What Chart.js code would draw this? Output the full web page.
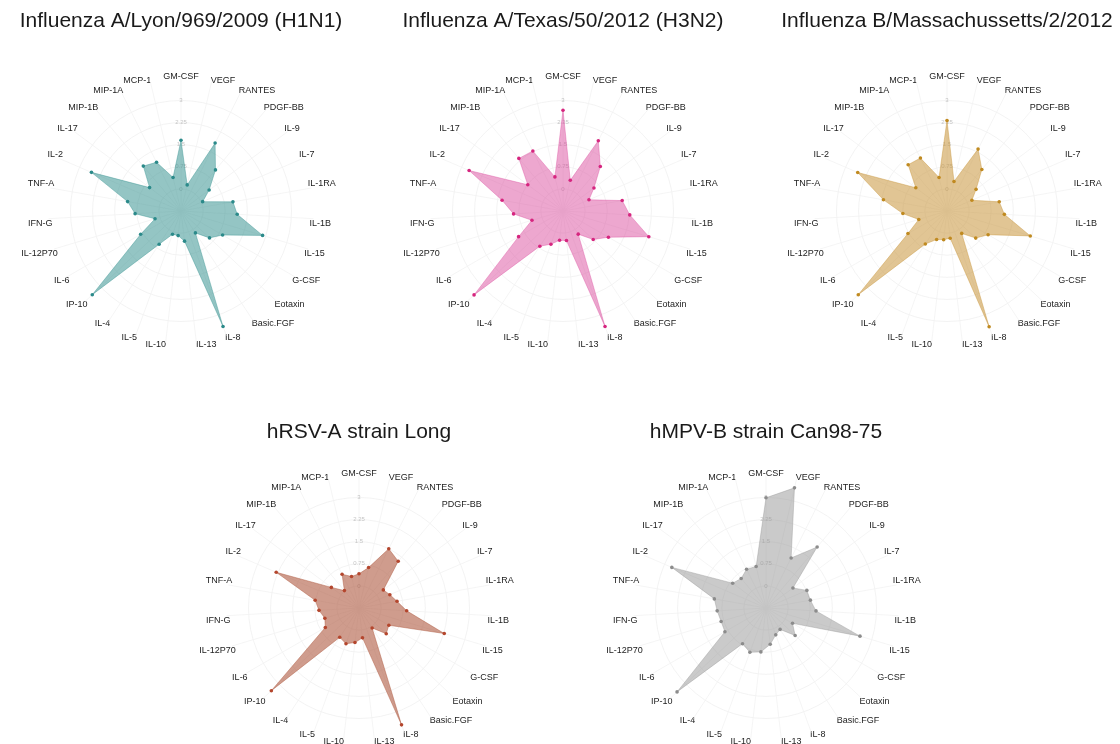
<!DOCTYPE html>
<html>
<head>
    <title>Cytokine radar</title>
    <script src="https://cdn.jsdelivr.net/npm/chart.js"></script>
    <style>
        body {
            margin: 0;
            width: 1120px;
            height: 744px;
            overflow: hidden;
            position: relative;
            background: #fff;
        }
        .radar-box {
            position: absolute;
            width: 384px;
            height: 351px;
        }
        .radar-box.low {
            height: 337px;
        }
    </style>
</head>
<body>
    <div class="radar-box" style="left:-11px; top:0px;"><canvas id="lyonChart"></canvas></div>
    <div class="radar-box" style="left:371px; top:0px;"><canvas id="texasChart"></canvas></div>
    <div class="radar-box" style="left:755px; top:0px;"><canvas id="massChart"></canvas></div>
    <div class="radar-box low" style="left:167px; top:411px;"><canvas id="rsvChart"></canvas></div>
    <div class="radar-box low" style="left:574px; top:411px;"><canvas id="mpvChart"></canvas></div>

    <script>
        // axes, clockwise from the top
        var cytokines = ['GM-CSF', 'VEGF', 'RANTES', 'PDGF-BB', 'IL-9', 'IL-7', 'IL-1RA', 'IL-1B', 'IL-15',
            'G-CSF', 'Eotaxin', 'Basic.FGF', 'IL-8', 'IL-13', 'IL-10', 'IL-5', 'IL-4', 'IP-10', 'IL-6',
            'IL-12P70', 'IFN-G', 'TNF-A', 'IL-2', 'IL-17', 'MIP-1B', 'MIP-1A', 'MCP-1'];

        var gridTicks = [0, 0.75, 1.5, 2.25, 3];

        var lyonH1N1 = [1.65, 0.16, 1.83, 1.07, 0.44, 0.05, 1.04, 1.16, 2.14, 0.88, 0.58, 0.14, 3.42, 0.28,
            0.09, 0.09, 0.60, 3.39, 0.83, 0.17, 0.81, 1.09, 2.56, 0.58, 1.24, 1.10, 0.42];
        var texasH3N2 = [2.67, 0.32, 1.92, 1.22, 0.56, 0.21, 1.29, 1.52, 2.29, 1.03, 0.66, 0.19, 3.42, 0.26,
            0.25, 0.45, 0.68, 3.40, 0.99, 0.35, 0.93, 1.35, 2.72, 0.74, 1.58, 1.53, 0.44];
        var massB = [2.32, 0.28, 1.60, 1.09, 0.48, 0.17, 1.05, 1.20, 2.20, 0.86, 0.59, 0.16, 3.43, 0.18,
            0.23, 0.28, 0.59, 3.39, 0.78, 0.25, 0.75, 1.44, 2.55, 0.57, 1.30, 1.26, 0.42];
        var rsvLong = [0.41, 0.66, 1.50, 1.32, 0.28, 0.39, 0.56, 0.87, 2.27, 0.42, 0.52, 0.06, 3.47, 0.27,
            0.43, 0.54, 0.44, 3.34, 0.57, 0.46, 0.61, 0.76, 2.31, 0.42, 0.02, 0.53, 0.35];
        var mpvCan98 = [2.99, 3.44, 1.15, 1.95, 0.39, 0.76, 0.78, 0.95, 2.58, 0.29, 0.61, 0.12, 0.22, 0.49,
            0.75, 0.85, 0.70, 3.40, 0.86, 0.84, 0.91, 1.03, 2.73, 0.66, 0.56, 0.72, 0.70];

        function makeRadar(id, title, values, pointColor, fillColor, titleGap) {
            var ctx = document.getElementById(id).getContext('2d');
            return new Chart(ctx, {
                type: 'radar',
                data: {
                    labels: cytokines,
                    datasets: [{
                        label: title,
                        data: values,
                        fill: 'start',
                        backgroundColor: fillColor,
                        borderColor: fillColor,
                        borderWidth: 0.8,
                        pointRadius: 1.8,
                        pointBorderWidth: 0,
                        pointBackgroundColor: pointColor
                    }]
                },
                options: {
                    responsive: true,
                    maintainAspectRatio: false,
                    animation: false,
                    plugins: {
                        legend: {display: false},
                        tooltip: {enabled: false},
                        title: {
                            display: true,
                            text: title,
                            color: '#1a1a1a',
                            font: {family: 'Liberation Sans', size: 21, weight: 'normal'},
                            padding: {top: 8.4, bottom: titleGap}
                        }
                    },
                    scales: {
                        r: {
                            min: -0.75,
                            max: 3.75,
                            ticks: {
                                stepSize: 0.75,
                                showLabelBackdrop: false,
                                color: '#c4c4c4',
                                font: {family: 'Liberation Sans', size: 6},
                                callback: function(v) {
                                    return gridTicks.indexOf(v) >= 0 ? String(v) : '';
                                }
                            },
                            grid: {
                                circular: true,
                                lineWidth: 0.8,
                                // no ring at the outer edge, only up to 3
                                color: function(c) {
                                    return c.tick && c.tick.value > 3 ? 'rgba(0,0,0,0)' : '#f0f0f0';
                                }
                            },
                            angleLines: {color: '#f3f3f3', lineWidth: 0.8},
                            pointLabels: {
                                color: '#222',
                                padding: -9,
                                backdropColor: 'rgba(255,255,255,0.85)',
                                backdropPadding: 1,
                                font: {family: 'Liberation Sans', size: 9}
                            }
                        }
                    }
                }
            });
        }

        makeRadar('lyonChart', 'Influenza A/Lyon/969/2009 (H1N1)', lyonH1N1, '#2b8a8a', 'rgba(60,150,148,0.55)', 38);
        makeRadar('texasChart', 'Influenza A/Texas/50/2012 (H3N2)', texasH3N2, '#d6257f', 'rgba(220,80,160,0.5)', 38);
        makeRadar('massChart', 'Influenza B/Massachussetts/2/2012', massB, '#c08a20', 'rgba(200,150,60,0.55)', 38);
        makeRadar('rsvChart', 'hRSV-A strain Long', rsvLong, '#b4462d', 'rgba(175,90,65,0.6)', 24);
        makeRadar('mpvChart', 'hMPV-B strain Can98-75', mpvCan98, '#8c8c8c', 'rgba(150,150,150,0.5)', 24);
    </script>
</body>
</html>
